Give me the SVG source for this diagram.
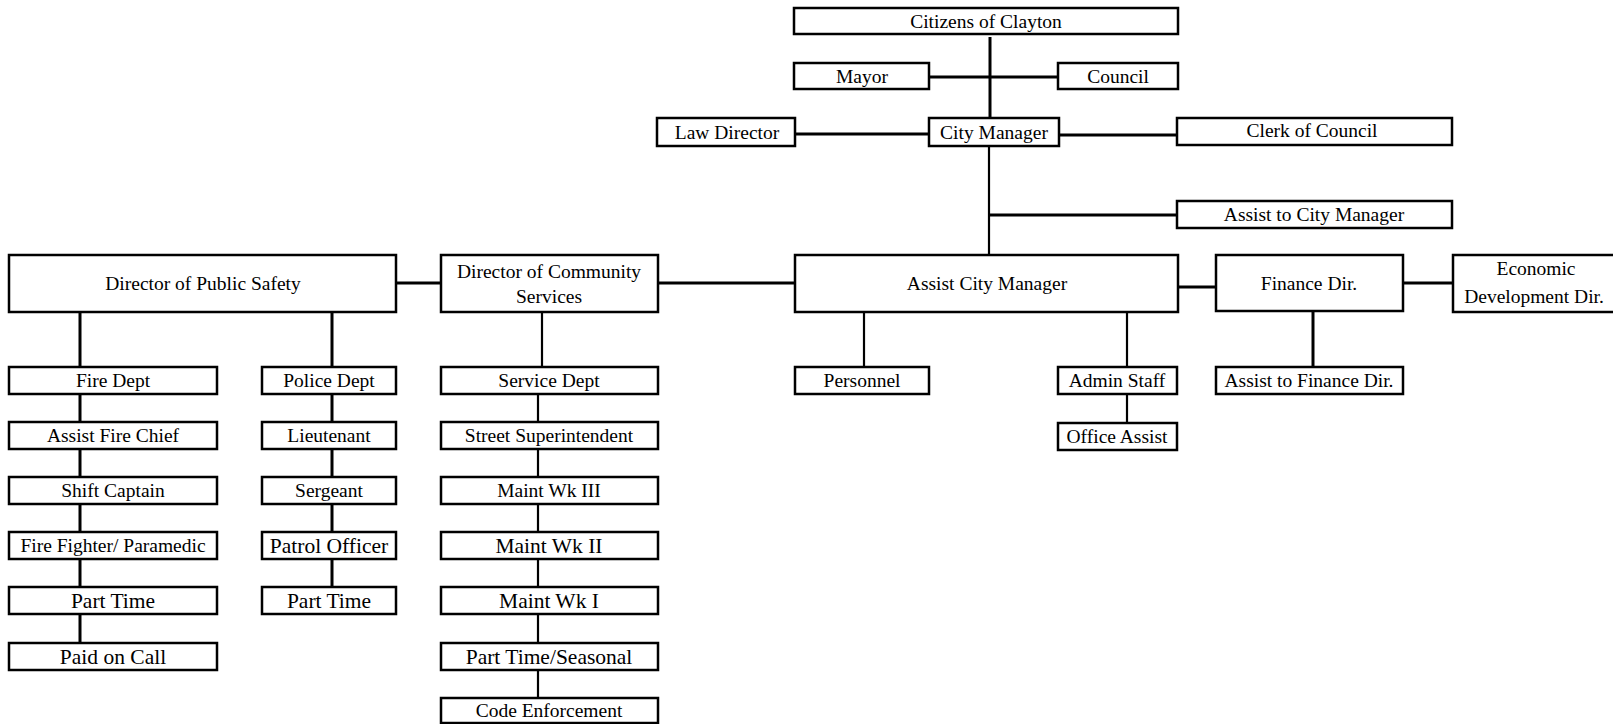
<svg xmlns="http://www.w3.org/2000/svg" width="1613" height="724" viewBox="0 0 1613 724">
<style>
rect{fill:#fff;stroke:#000;stroke-width:2.5}
text{font-family:"Liberation Serif","Times New Roman",serif;font-size:19.5px;fill:#000;text-anchor:middle}
text.big{font-size:21.5px}
.c line{stroke:#000;stroke-width:3;fill:none}
.c line.t{stroke-width:2.2}
</style>
<rect x="0" y="0" width="1613" height="724" style="fill:#fff;stroke:none"/>
<g class="c" id="connectors">
<line x1="990" y1="37" x2="990" y2="122"/>
<line x1="929" y1="77" x2="1058" y2="77"/>
<line x1="795" y1="134" x2="929" y2="134"/>
<line x1="1059" y1="135" x2="1177" y2="135"/>
<line class="t" x1="989" y1="146" x2="989" y2="258"/>
<line x1="989" y1="215" x2="1177" y2="215"/>
<line x1="396" y1="283" x2="441" y2="283"/>
<line x1="658" y1="283" x2="795" y2="283"/>
<line x1="1178" y1="287" x2="1216" y2="287"/>
<line x1="1403" y1="283" x2="1453" y2="283"/>
<line x1="80" y1="312" x2="80" y2="643"/>
<line x1="332" y1="312" x2="332" y2="588"/>
<line class="t" x1="542" y1="312" x2="542" y2="367"/>
<line class="t" x1="538" y1="394" x2="538" y2="698"/>
<line class="t" x1="864" y1="312" x2="864" y2="367"/>
<line class="t" x1="1127" y1="312" x2="1127" y2="423"/>
<line x1="1313" y1="311" x2="1313" y2="367"/>
</g>
<g id="citizens"><rect x="794" y="8" width="384" height="26"/><text x="986" y="28">Citizens of Clayton</text></g>
<g id="mayor"><rect x="794" y="63" width="135" height="26"/><text x="862" y="83">Mayor</text></g>
<g id="council"><rect x="1058" y="63" width="120" height="26"/><text x="1118" y="83">Council</text></g>
<g id="law-director"><rect x="657" y="118" width="138" height="28"/><text x="727" y="139">Law Director</text></g>
<g id="city-manager"><rect x="929" y="118" width="130" height="28"/><text x="994" y="139">City Manager</text></g>
<g id="clerk"><rect x="1177" y="118" width="275" height="27"/><text x="1312" y="137">Clerk of Council</text></g>
<g id="assist-to-cm"><rect x="1177" y="201" width="275" height="27"/><text x="1314" y="221">Assist to City Manager</text></g>
<g id="dps"><rect x="9" y="255" width="387" height="57"/><text x="203" y="290">Director of Public Safety</text></g>
<g id="dcs"><rect x="441" y="255" width="217" height="57"/><text x="549" y="278">Director of Community</text><text x="549" y="302.5">Services</text></g>
<g id="acm"><rect x="795" y="255" width="383" height="57"/><text x="987" y="290">Assist City Manager</text></g>
<g id="finance"><rect x="1216" y="255" width="187" height="56"/><text x="1309" y="290">Finance Dir.</text></g>
<g id="econ"><rect x="1453" y="255" width="170" height="57"/><text x="1536" y="275">Economic</text><text x="1534" y="302.5">Development Dir.</text></g>
<g id="fire-dept"><rect x="9" y="367" width="208" height="27"/><text x="113" y="387">Fire Dept</text></g>
<g id="assist-fire-chief"><rect x="9" y="422" width="208" height="27"/><text x="113" y="442">Assist Fire Chief</text></g>
<g id="shift-captain"><rect x="9" y="477" width="208" height="27"/><text x="113" y="497">Shift Captain</text></g>
<g id="fire-fighter"><rect x="9" y="532" width="208" height="27"/><text x="113" y="552">Fire Fighter/ Paramedic</text></g>
<g id="fire-part-time"><rect x="9" y="587" width="208" height="27"/><text class="big" x="113" y="608">Part Time</text></g>
<g id="paid-on-call"><rect x="9" y="643" width="208" height="27"/><text class="big" x="113" y="664">Paid on Call</text></g>
<g id="police-dept"><rect x="262" y="367" width="134" height="27"/><text x="329" y="387">Police Dept</text></g>
<g id="lieutenant"><rect x="262" y="422" width="134" height="27"/><text x="329" y="442">Lieutenant</text></g>
<g id="sergeant"><rect x="262" y="477" width="134" height="27"/><text x="329" y="497">Sergeant</text></g>
<g id="patrol-officer"><rect x="262" y="532" width="134" height="27"/><text class="big" x="329" y="553">Patrol Officer</text></g>
<g id="police-part-time"><rect x="262" y="587" width="134" height="27"/><text class="big" x="329" y="608">Part Time</text></g>
<g id="service-dept"><rect x="441" y="367" width="217" height="27"/><text x="549" y="387">Service Dept</text></g>
<g id="street-super"><rect x="441" y="422" width="217" height="27"/><text x="549" y="442">Street Superintendent</text></g>
<g id="maint-3"><rect x="441" y="477" width="217" height="27"/><text x="549" y="497">Maint Wk III</text></g>
<g id="maint-2"><rect x="441" y="532" width="217" height="27"/><text class="big" x="549" y="553">Maint Wk II</text></g>
<g id="maint-1"><rect x="441" y="587" width="217" height="27"/><text class="big" x="549" y="608">Maint Wk I</text></g>
<g id="part-time-seasonal"><rect x="441" y="643" width="217" height="27"/><text class="big" x="549" y="664">Part Time/Seasonal</text></g>
<g id="code-enforcement"><rect x="441" y="698" width="217" height="25"/><text x="549" y="717">Code Enforcement</text></g>
<g id="personnel"><rect x="795" y="367" width="134" height="27"/><text x="862" y="387">Personnel</text></g>
<g id="admin-staff"><rect x="1058" y="367" width="119" height="27"/><text x="1117" y="387">Admin Staff</text></g>
<g id="office-assist"><rect x="1058" y="423" width="119" height="27"/><text x="1117" y="443">Office Assist</text></g>
<g id="assist-finance"><rect x="1216" y="367" width="187" height="27"/><text x="1309" y="387">Assist to Finance Dir.</text></g>
</svg>
